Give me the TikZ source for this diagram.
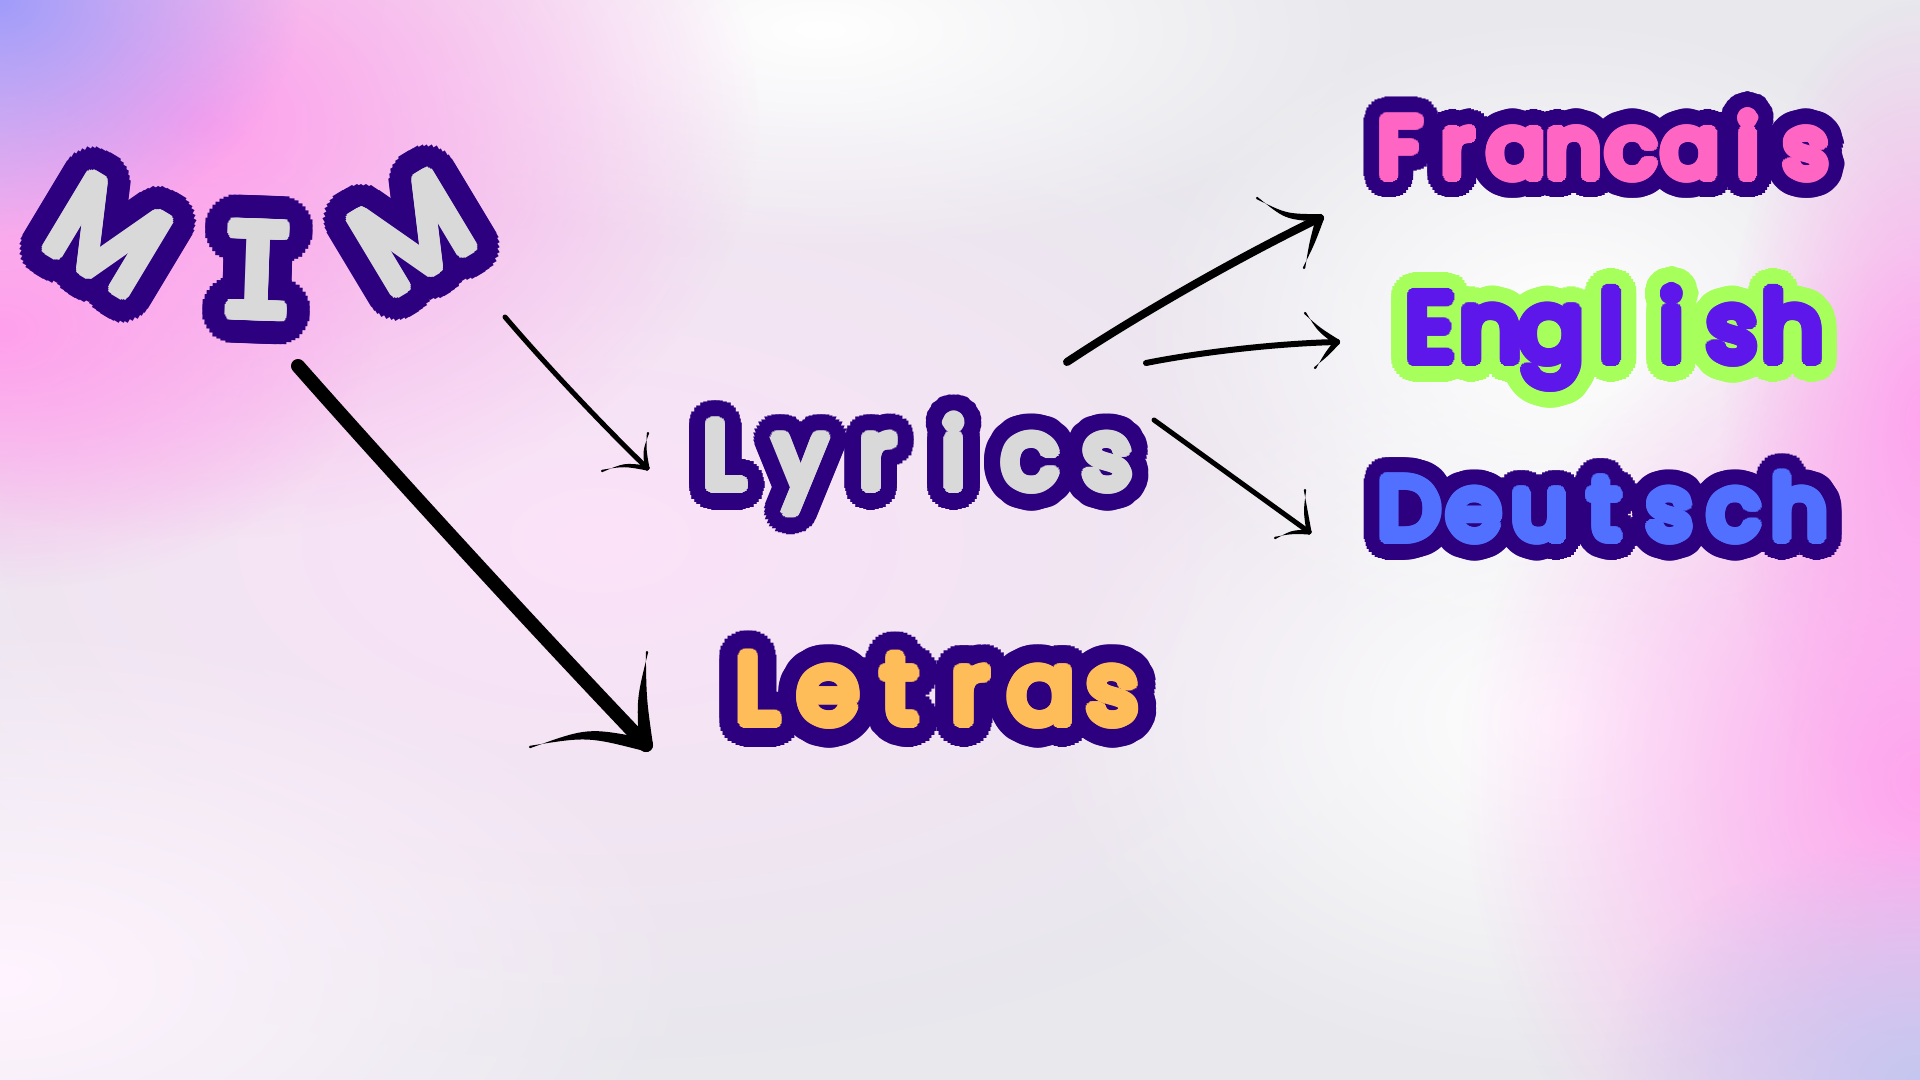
\documentclass[tikz,border=0pt]{standalone}
\usepackage{fontspec}
\usetikzlibrary{calc,fadings}
\tikzfading[name=blobfade, inner color=transparent!0, outer color=transparent!100]
\newfontfamily\popr{Poppins}
\newfontfamily\djm{DejaVu Sans Mono}
\definecolor{outl}{RGB}{44,0,126}
\definecolor{greyfill}{RGB}{217,217,217}
\definecolor{pinkfill}{RGB}{255,102,196}
\definecolor{enfill}{RGB}{94,23,235}
\definecolor{enout}{RGB}{166,255,90}
\definecolor{defill}{RGB}{81,112,255}
\definecolor{orfill}{RGB}{255,189,89}
\definecolor{bgbase}{RGB}{232,232,237}
\definecolor{bgpale}{RGB}{252,226,249}
\definecolor{bgwhitepink}{RGB}{255,244,255}
\definecolor{bgpinkA}{RGB}{255,160,236}
\definecolor{bglavA}{RGB}{160,156,250}
\definecolor{bgpinkB}{RGB}{255,165,238}
\definecolor{bglavB}{RGB}{196,198,240}
\definecolor{ink}{RGB}{0,0,0}
\tikzset{wordstyle/.style={inner sep=0pt, outer sep=0pt}}
% one letter in a cell of fixed width \pw
\newcommand\mb[1]{\makebox[\pw][c]{#1}}
% #1 name, #2 position, #3 extra options, #4 font, #5 fill, #6 outline, #7 outline radius, #8 text
\newcommand\olabel[8]{%
  \pgfmathsetmacro\rhalf{#7*0.6}%
  \pgfmathsetmacro\rthird{#7*0.25}%
  \foreach \ang in {0,10,...,350}{%
    \node[wordstyle, #3, font=#4, text=#6] at ($(#2)+(\ang:#7)$) {#8};
  }%
  \foreach \ang in {0,20,...,340}{%
    \node[wordstyle, #3, font=#4, text=#6] at ($(#2)+(\ang:\rhalf)$) {#8};
    \node[wordstyle, #3, font=#4, text=#6] at ($(#2)+(\ang:\rthird)$) {#8};
  }%
  \foreach \ang in {0,20,...,340}{%
    \node[wordstyle, #3, font=#4, text=#5] at ($(#2)+(\ang:5.5)$) {#8};
  }%
  \foreach \ang in {0,30,...,330}{%
    \node[wordstyle, #3, font=#4, text=#5] at ($(#2)+(\ang:3.5)$) {#8};
    \node[wordstyle, #3, font=#4, text=#5] at ($(#2)+(\ang:1.7)$) {#8};
  }%
  \node[wordstyle, #3, font=#4, text=#5] (#1) at (#2) {#8};
}
% shaft: #1 from, #2 to, #3 thickness (px), #4 bend (px)
\newcommand\shaft[4]{%
  \coordinate (bqa) at ($(#1)!0.3!(#2)$);
  \coordinate (bqb) at ($(#1)!0.7!(#2)$);
  \draw[ink, line width=#3*0.5pt, line cap=round] (#1) .. controls ($(bqa)!{#4*0.5pt}!90:(#2)$) and ($(bqb)!{#4*0.5pt}!90:(#2)$) .. (#2);
}
% barb: tapered from #1 (thick, #3 px) to #2 (thin), bend #4 px
\newcommand\barb[4]{%
  \coordinate (bqm) at ($(#1)!0.5!(#2)$);
  \fill[ink] ($(#1)!{#3*0.25pt}!90:(#2)$) .. controls ($(bqm)!{(#4+#3*0.35)*0.5pt}!90:(#2)$) .. ($(#2)!{0.6pt}!90:(#1)$)
     -- ($(#2)!{0.6pt}!-90:(#1)$) .. controls ($(bqm)!{(#4-#3*0.35)*0.5pt}!90:(#2)$) .. ($(#1)!{#3*0.25pt}!-90:(#2)$) -- cycle;
  \fill[ink] (#1) circle [radius=#3*0.25pt];
  \fill[ink] (#2) circle [radius=0.6pt];
}
\begin{document}
\begin{tikzpicture}[x=0.5pt,y=-0.5pt]
\useasboundingbox (0,0) rectangle (1920,1080);
% background
\fill[bgbase] (0,0) rectangle (1920,1080);
\fill[bgpale, path fading=blobfade] (600,540) ellipse [x radius=900, y radius=520];
\fill[white, path fading=blobfade] (820,30) ellipse [x radius=560, y radius=220];
\fill[white, path fading=blobfade] (1560,720) ellipse [x radius=520, y radius=360];
\fill[white, path fading=blobfade] (1560,330) ellipse [x radius=420, y radius=320];
\fill[bgwhitepink, path fading=blobfade] (0,980) ellipse [x radius=700, y radius=360];
\fill[bgpinkA, path fading=blobfade] (200,120) ellipse [x radius=560, y radius=420];
\fill[bgpinkA, path fading=blobfade] (0,330) ellipse [x radius=380, y radius=260];
\fill[bglavA, path fading=blobfade] (0,0) ellipse [x radius=300, y radius=240];
\fill[bgpinkB, path fading=blobfade] (1920,780) ellipse [x radius=460, y radius=520];
\fill[bgpinkB, path fading=blobfade] (1920,420) ellipse [x radius=200, y radius=420];
\fill[bglavB, path fading=blobfade] (1920,1080) ellipse [x radius=320, y radius=240];

% words
\olabel{m1}{108,235}{rotate=-31,anchor=center}{\popr\fontsize{63}{63}\selectfont}{greyfill}{outl}{28}{M}
\olabel{mi}{258,270}{rotate=-2,anchor=center}{\djm\fontsize{63}{63}\selectfont}{greyfill}{outl}{28}{I}
\olabel{m2}{412,233}{rotate=31,anchor=center}{\popr\fontsize{63}{63}\selectfont}{greyfill}{outl}{28}{M}
\olabel{lyrics}{686,488}{anchor=base west}{\popr\fontsize{47}{47}\selectfont}{greyfill}{outl}{22}{\def\pw{38.3pt}\mb{L}\mb{y}\mb{r}\mb{i}\mb{c}\mb{s}}
\olabel{letras}{722,723}{anchor=base west}{\popr\fontsize{49}{49}\selectfont}{orfill}{outl}{24}{\def\pw{35.5pt}\mb{L}\mb{e}\mb{t}\mb{r}\mb{a}\mb{s}}
\olabel{fr}{1371,177}{anchor=base west}{\popr\fontsize{42}{42}\selectfont}{pinkfill}{outl}{21}{\def\pw{29pt}\mb{F}\mb{r}\mb{a}\mb{n}\mb{c}\mb{a}\mb{i}\mb{s}}
\olabel{en}{1400,361}{anchor=base west}{\popr\fontsize{48}{48}\selectfont}{enfill}{enout}{21}{\def\pw{30.2pt}\mb{E}\mb{n}\mb{g}\mb{l}\mb{i}\mb{s}\mb{h}}
\olabel{de}{1377,539}{anchor=base west}{\popr\fontsize{43.5}{43.5}\selectfont}{defill}{outl}{21}{\def\pw{32.5pt}\mb{D}\mb{e}\mb{u}\mb{t}\mb{s}\mb{c}\mb{h}}

% arrow end points
\coordinate (a1s) at (505,317); \coordinate (a1e) at (647,468);
\coordinate (a1b) at (648,433); \coordinate (a1c) at (602,471);
\coordinate (a2s) at (298,366); \coordinate (a2e) at (646,745);
\coordinate (a2b) at (647,652); \coordinate (a2c) at (530,747);
\coordinate (a3s) at (1067,362); \coordinate (a3e) at (1320,218);
\coordinate (a3b) at (1257,198); \coordinate (a3c) at (1304,268);
\coordinate (a4s) at (1146,363); \coordinate (a4e) at (1337,342);
\coordinate (a4b) at (1305,313); \coordinate (a4c) at (1315,368);
\coordinate (a5s) at (1154,420); \coordinate (a5e) at (1309,532);
\coordinate (a5b) at (1305,490); \coordinate (a5c) at (1275,538);

% MIM -> Lyrics
\shaft{a1s}{a1e}{5}{-3}
\barb{a1e}{a1b}{5}{3}
\barb{a1e}{a1c}{5}{-5}
% MIM -> Letras
\shaft{a2s}{a2e}{14}{-3}
\barb{a2e}{a2b}{14}{5}
\barb{a2e}{a2c}{13}{-14}
% Lyrics -> Francais
\shaft{a3s}{a3e}{8}{6}
\barb{a3e}{a3b}{8}{9}
\barb{a3e}{a3c}{8}{0}
% Lyrics -> English
\shaft{a4s}{a4e}{6}{5}
\barb{a4e}{a4b}{6}{3}
\barb{a4e}{a4c}{6}{0}
% Lyrics -> Deutsch
\shaft{a5s}{a5e}{5}{0}
\barb{a5e}{a5b}{5}{2}
\barb{a5e}{a5c}{5}{-3}
\end{tikzpicture}
\end{document}
